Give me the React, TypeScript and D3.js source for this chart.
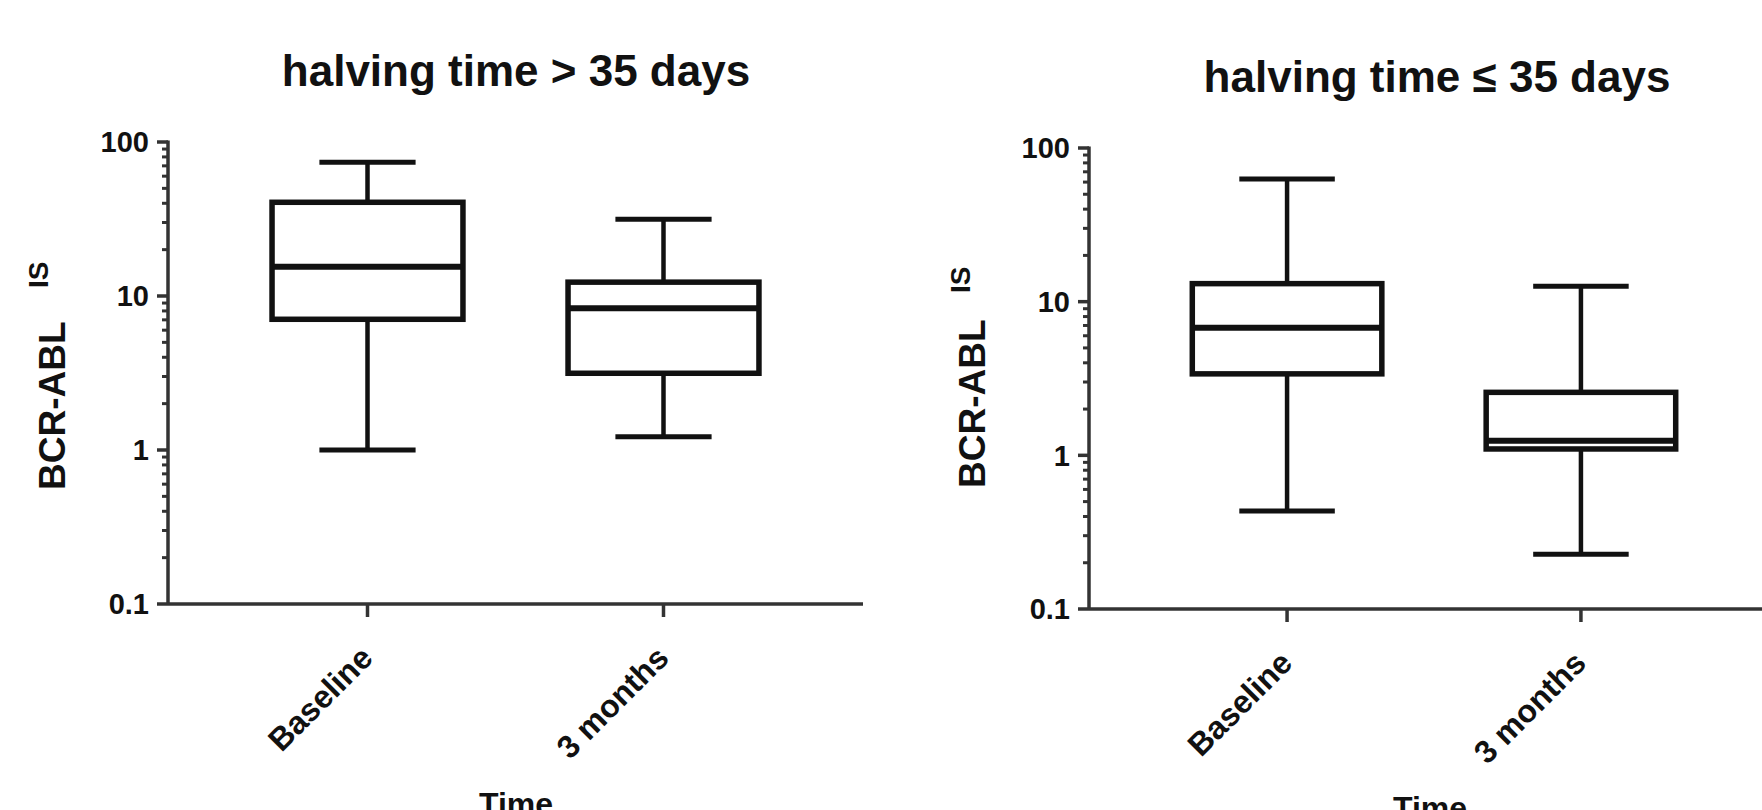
import React from 'react';
import * as d3 from 'd3';

const categories = ['Baseline', '3 months'];
const titles = ['halving time > 35 days', 'halving time \u2264 35 days'];
const yTickValues = [0.1, 1, 10, 100];
const yTickLabels = ['0.1', '1', '10', '100'];
const xAxisTitle = 'Time';
const yAxisTitle = 'BCR-ABL';
const yAxisSup = 'IS';

// halving time > 35 days
const slowMin = [1.0, 1.22];
const slowQ1 = [7.06, 3.15];
const slowMedian = [15.5, 8.32];
const slowQ3 = [40.6, 12.3];
const slowMax = [73.8, 31.5];

// halving time <= 35 days
const fastMin = [0.435, 0.227];
const fastQ1 = [3.39, 1.1];
const fastMedian = [6.76, 1.245];
const fastQ3 = [13.1, 2.57];
const fastMax = [62.8, 12.6];

const FONT = '"Liberation Sans", Arial, Helvetica, sans-serif';
const AXIS = '#333';
const INK = '#111';

const layouts = [
  { x0: 168, x1: 863, yTop: 142, yBottom: 604, titleX: 516, titleY: 86, ylabX: 65, ylabY: 490, supX: 48, supY: 288, timeX: 516, timeY: 815 },
  { x0: 1089, x1: 1779, yTop: 148, yBottom: 609, titleX: 1437, titleY: 92, ylabX: 985, ylabY: 488, supX: 970, supY: 293, timeX: 1430, timeY: 819 },
];

function Panel({ idx, title, mins, q1s, meds, q3s, maxs }: any) {
  const L = layouts[idx];
  const x = d3.scalePoint<string>().domain(categories).range([L.x0, L.x1]).padding(0.674);
  const y = d3.scaleLog().domain([0.1, 100]).range([L.yBottom, L.yTop]);
  const step = x.step();
  const boxW = step * 0.645;
  const capW = step * 0.325;
  const minor: number[] = [];
  [0.1, 1, 10].forEach((d) => {
    for (let k = 2; k <= 9; k++) minor.push(d * k);
  });
  return (
    <g>
      <text x={L.titleX} y={L.titleY} textAnchor="middle" fontFamily={FONT} fontWeight="bold" fontSize={44} fill={INK}>
        {title}
      </text>
      {/* y axis */}
      <line x1={L.x0} x2={L.x0} y1={y(0.1)} y2={y(100) - 1.5} stroke={AXIS} strokeWidth={3.5} />
      {yTickValues.map((v, i) => (
        <g key={'t' + v}>
          <line x1={L.x0 - 11} x2={L.x0} y1={y(v)} y2={y(v)} stroke={AXIS} strokeWidth={3.5} />
          <text x={L.x0 - 19} y={y(v)} dy="0.36em" textAnchor="end" fontFamily={FONT} fontWeight="bold" fontSize={29} fill={INK}>
            {yTickLabels[i]}
          </text>
        </g>
      ))}
      {minor.map((v) => (
        <line key={'m' + v} x1={L.x0 - 6} x2={L.x0} y1={y(v)} y2={y(v)} stroke={AXIS} strokeWidth={3} />
      ))}
      {/* x axis */}
      <line x1={L.x0} x2={L.x1} y1={L.yBottom} y2={L.yBottom} stroke={AXIS} strokeWidth={3.5} />
      {categories.map((c) => (
        <g key={'x' + c}>
          <line x1={x(c)} x2={x(c)} y1={L.yBottom} y2={L.yBottom + 13} stroke={AXIS} strokeWidth={3.5} />
          <text
            transform={`translate(${(x(c) as number) + 7},${L.yBottom + 56}) rotate(-45)`}
            textAnchor="end"
            fontFamily={FONT}
            fontWeight="bold"
            fontSize={32}
            fill={INK}
          >
            {c}
          </text>
        </g>
      ))}
      {/* boxes */}
      {categories.map((c, i) => {
        const cx = x(c) as number;
        return (
          <g key={'b' + c} stroke={INK} fill="none">
            <line x1={cx} x2={cx} y1={y(maxs[i])} y2={y(q3s[i])} strokeWidth={4.5} />
            <line x1={cx} x2={cx} y1={y(q1s[i])} y2={y(mins[i])} strokeWidth={4.5} />
            <line x1={cx - capW / 2} x2={cx + capW / 2} y1={y(maxs[i])} y2={y(maxs[i])} strokeWidth={5} />
            <line x1={cx - capW / 2} x2={cx + capW / 2} y1={y(mins[i])} y2={y(mins[i])} strokeWidth={5} />
            <rect x={cx - boxW / 2} y={y(q3s[i])} width={boxW} height={y(q1s[i]) - y(q3s[i])} strokeWidth={5.5} fill="#fff" />
            <line x1={cx - boxW / 2} x2={cx + boxW / 2} y1={y(meds[i])} y2={y(meds[i])} strokeWidth={6} />
          </g>
        );
      })}
      {/* axis titles */}
      <text transform={`translate(${L.ylabX},${L.ylabY}) rotate(-90)`} fontFamily={FONT} fontWeight="bold" fontSize={37} fill={INK}>
        {yAxisTitle}
      </text>
      <text transform={`translate(${L.supX},${L.supY}) rotate(-90)`} fontFamily={FONT} fontWeight="bold" fontSize={28} fill={INK}>
        {yAxisSup}
      </text>
      <text x={L.timeX} y={L.timeY} textAnchor="middle" fontFamily={FONT} fontWeight="bold" fontSize={32} fill={INK}>
        {xAxisTitle}
      </text>
    </g>
  );
}

export default function App() {
  return (
    <svg width={1762} height={810} style={{ position: 'absolute', left: 0, top: 0, background: '#fff' }}>
      <rect width={1762} height={810} fill="#fff" />
      <Panel idx={0} title={titles[0]} mins={slowMin} q1s={slowQ1} meds={slowMedian} q3s={slowQ3} maxs={slowMax} />
      <Panel idx={1} title={titles[1]} mins={fastMin} q1s={fastQ1} meds={fastMedian} q3s={fastQ3} maxs={fastMax} />
    </svg>
  );
}
